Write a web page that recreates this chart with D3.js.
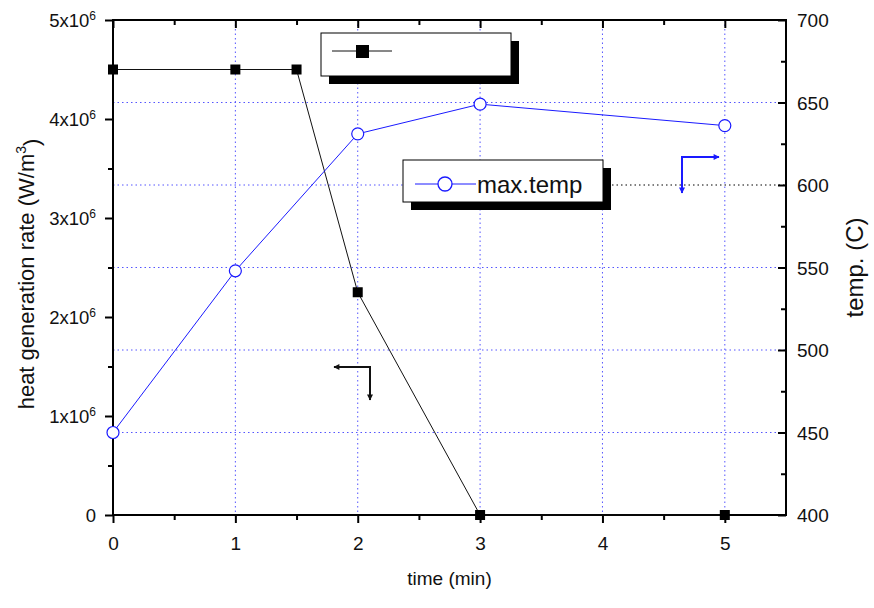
<!DOCTYPE html>
<html>
<head>
<meta charset="utf-8">
<script src="https://cdn.jsdelivr.net/npm/d3@7"></script>
<style>
  body { margin: 0; background: #fff; }
  text { font-family: "Liberation Sans", Arial, sans-serif; }
</style>
</head>
<body>
<div id="chart"></div>
<script>
// data
const timeHeat = [0, 1, 1.5, 2, 3, 5];
const heatRate = [4.5e6, 4.5e6, 4.5e6, 2.25e6, 0, 0];
const timeTemp = [0, 1, 2, 3, 5];
const maxTemp = [450, 548, 631, 649, 636];
const xTicks = [0, 1, 2, 3, 4, 5];
const leftTicks = [0, 1, 2, 3, 4, 5];       // x10^6
const rightTicks = [400, 450, 500, 550, 600, 650, 700];
const gridTemps = [450, 500, 550, 600, 650];
const legendLabel = "max.temp";

const W = 874, H = 608;
const margin = {top: 20, right: 88, bottom: 93, left: 113},
  width = W - margin.left - margin.right,
  height = H - margin.top - margin.bottom;

const svg = d3.select("#chart").append("svg")
  .attr("width", W).attr("height", H);
const g = svg.append("g").attr("transform", `translate(${margin.left},${margin.top})`);

const x = d3.scaleLinear().domain([0, 5.5]).range([0, width]);
const yL = d3.scaleLinear().domain([0, 5e6]).range([height, 0]);
const yR = d3.scaleLinear().domain([400, 700]).range([height, 0]);

// legend 2 box (used to split the 600 grid line colour)
const leg2 = {x: 403, y: 160, w: 200, h: 42};

// grid
const grid = g.append("g");
grid.selectAll(".vg").data(xTicks.slice(1)).join("line")
  .attr("x1", d => x(d)).attr("x2", d => x(d)).attr("y1", 0).attr("y2", height)
  .attr("stroke", "#5555ff").attr("stroke-width", 1).attr("stroke-dasharray", "1.5,3");
grid.selectAll(".hg").data(gridTemps.filter(d => d != 600)).join("line")
  .attr("x1", 0).attr("x2", width).attr("y1", d => yR(d)).attr("y2", d => yR(d))
  .attr("stroke", "#5555ff").attr("stroke-width", 1).attr("stroke-dasharray", "1.5,3");
// 600 line: blue on the left, black right of the legend
grid.append("line")
  .attr("x1", 0).attr("x2", leg2.x - margin.left).attr("y1", yR(600)).attr("y2", yR(600))
  .attr("stroke", "#5555ff").attr("stroke-width", 1).attr("stroke-dasharray", "1.5,3");
grid.append("line")
  .attr("x1", leg2.x + leg2.w - margin.left).attr("x2", width).attr("y1", yR(600)).attr("y2", yR(600))
  .attr("stroke", "#000").attr("stroke-width", 1).attr("stroke-dasharray", "1.5,3");

// axes
function styleAxis(sel) {
  sel.select(".domain").remove();
  sel.selectAll("line").attr("stroke", "#000").attr("stroke-width", 2);
  sel.selectAll("text").style("font-size", "19px").attr("fill", "#111");
}
const minorX = d3.range(0.5, 5.5, 1);
const minorL = d3.range(0.5e6, 5e6, 1e6);
const minorR = d3.range(425, 700, 50);

// bottom
g.append("g").attr("transform", `translate(0,${height})`)
  .call(d3.axisBottom(x).tickValues(xTicks).tickSize(8).tickPadding(14).tickFormat(d3.format("d")))
  .call(styleAxis);
g.append("g").attr("transform", `translate(0,${height})`)
  .call(d3.axisBottom(x).tickValues(minorX).tickSize(5).tickFormat(""))
  .call(styleAxis);
// top (inward)
g.append("g")
  .call(d3.axisBottom(x).tickValues(xTicks).tickSize(8).tickFormat(""))
  .call(styleAxis);
g.append("g")
  .call(d3.axisBottom(x).tickValues(minorX).tickSize(5).tickFormat(""))
  .call(styleAxis);

// left
const leftAx = g.append("g")
  .call(d3.axisLeft(yL).tickValues(leftTicks.map(d => d * 1e6)).tickSize(8).tickFormat(""))
  .call(styleAxis);
leftAx.selectAll(".tick").append("text")
  .attr("x", -17).attr("dy", "0.35em").attr("text-anchor", "end")
  .style("font-size", "18.5px").attr("fill", "#111")
  .each(function(d) {
    const t = d3.select(this);
    if (d === 0) { t.text("0"); return; }
    t.append("tspan").text((d / 1e6) + "x10");
    t.append("tspan").attr("dy", "-0.6em").style("font-size", "12px").text("6");
  });
g.append("g")
  .call(d3.axisLeft(yL).tickValues(minorL).tickSize(5).tickFormat(""))
  .call(styleAxis);

// right (inward ticks)
g.append("g").attr("transform", `translate(${width},0)`)
  .call(d3.axisLeft(yR).tickValues(rightTicks).tickSize(8).tickFormat(""))
  .call(styleAxis)
  .selectAll(".tick").append("text")
  .attr("x", 11).attr("dy", "0.35em").attr("text-anchor", "start")
  .style("font-size", "19px").attr("fill", "#111").text(d => d);
g.append("g").attr("transform", `translate(${width},0)`)
  .call(d3.axisLeft(yR).tickValues(minorR).tickSize(5).tickFormat(""))
  .call(styleAxis);

// frame
g.append("rect").attr("width", width).attr("height", height)
  .attr("fill", "none").attr("stroke", "#000").attr("stroke-width", 2);

// series 1: heat generation rate
const heatData = timeHeat.map((t, i) => ({t: t, v: heatRate[i]}));
g.append("path").datum(heatData)
  .attr("fill", "none").attr("stroke", "#111").attr("stroke-width", 1)
  .attr("d", d3.line().x(d => x(d.t)).y(d => yL(d.v)));
g.selectAll(".sq").data(heatData).join("rect")
  .attr("x", d => x(d.t) - 5).attr("y", d => yL(d.v) - 5)
  .attr("width", 10).attr("height", 10).attr("fill", "#000");

// series 2: max temp
const tempData = timeTemp.map((t, i) => ({t: t, v: maxTemp[i]}));
g.append("path").datum(tempData)
  .attr("fill", "none").attr("stroke", "#1a1aff").attr("stroke-width", 1)
  .attr("d", d3.line().x(d => x(d.t)).y(d => yR(d.v)));
g.selectAll(".ci").data(tempData).join("circle")
  .attr("cx", d => x(d.t)).attr("cy", d => yR(d.v)).attr("r", 6)
  .attr("fill", "#fff").attr("stroke", "#1a1aff").attr("stroke-width", 1.2);

// arrows
const defs = svg.append("defs");
[["ab", "#111"], ["abl", "#1a1aff"]].forEach(([id, c]) => {
  defs.append("marker").attr("id", id).attr("viewBox", "0 0 10 10")
    .attr("refX", 9).attr("refY", 5).attr("markerWidth", 10).attr("markerHeight", 6)
    .attr("markerUnits", "userSpaceOnUse").attr("orient", "auto")
    .append("path").attr("d", "M0,0L10,5L0,10z").attr("fill", c);
});
function arrowPair(cx, cy, hx, vy, color, id) {
  svg.append("line").attr("x1", cx).attr("y1", cy).attr("x2", hx).attr("y2", cy)
    .attr("stroke", color).attr("stroke-width", 2).attr("marker-end", `url(#${id})`);
  svg.append("line").attr("x1", cx).attr("y1", cy - 1).attr("x2", cx).attr("y2", vy)
    .attr("stroke", color).attr("stroke-width", 2).attr("marker-end", `url(#${id})`);
}
arrowPair(370, 367, 334, 400, "#111", "ab");
arrowPair(682, 157, 719, 193, "#1a1aff", "abl");

// legends with shadow
function legendBox(x0, y0, w, h) {
  svg.append("rect").attr("x", x0 + 8).attr("y", y0 + 8).attr("width", w).attr("height", h).attr("fill", "#000");
  svg.append("rect").attr("x", x0).attr("y", y0).attr("width", w).attr("height", h)
    .attr("fill", "#fff").attr("stroke", "#000").attr("stroke-width", 1);
}
legendBox(321, 33, 190, 43);
svg.append("line").attr("x1", 332).attr("x2", 392).attr("y1", 51).attr("y2", 51).attr("stroke", "#111");
svg.append("rect").attr("x", 356).attr("y", 45).attr("width", 13).attr("height", 13).attr("fill", "#000");

legendBox(leg2.x, leg2.y, leg2.w, leg2.h);
svg.append("line").attr("x1", 415).attr("x2", 476).attr("y1", 184).attr("y2", 184).attr("stroke", "#1a1aff");
svg.append("circle").attr("cx", 445).attr("cy", 184).attr("r", 7)
  .attr("fill", "#fff").attr("stroke", "#1a1aff").attr("stroke-width", 1.3);
svg.append("text").attr("x", 477).attr("y", 193).style("font-size", "24px").attr("fill", "#111").text(legendLabel);

// axis titles
svg.append("text").attr("x", margin.left + width / 2).attr("y", 585)
  .attr("text-anchor", "middle").style("font-size", "19px").attr("fill", "#111").text("time (min)");
const yl = svg.append("text").attr("transform", "translate(34,274) rotate(-90)")
  .attr("text-anchor", "middle").style("font-size", "22px").attr("fill", "#111");
yl.append("tspan").text("heat generation rate (W/m");
yl.append("tspan").attr("dy", "-0.6em").style("font-size", "14px").text("3");
yl.append("tspan").attr("dy", "0.6em").text(")");
svg.append("text").attr("transform", `translate(863,${margin.top + height / 2}) rotate(-90)`)
  .attr("text-anchor", "middle").style("font-size", "24px").attr("fill", "#111").text("temp. (C)");
</script>
</body>
</html>
